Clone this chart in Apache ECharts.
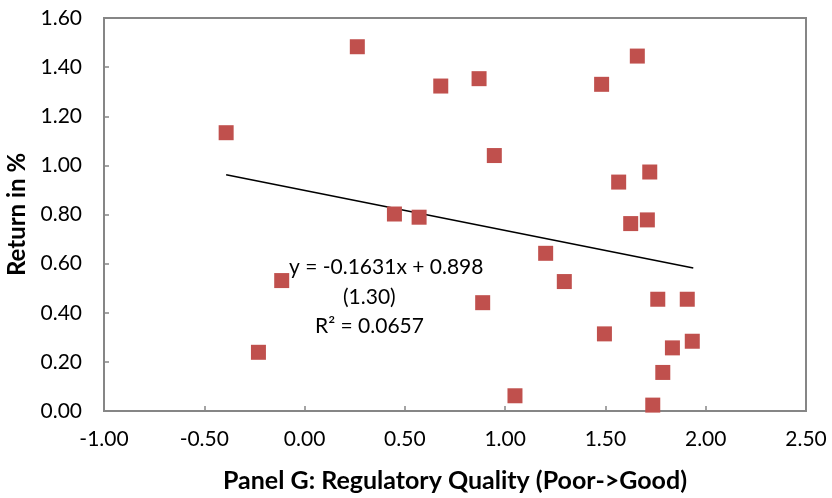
<!DOCTYPE html>
<html>
<head>
<meta charset="utf-8">
<script src="https://cdn.jsdelivr.net/npm/echarts@6/dist/echarts.min.js"></script>
<style>
  html, body { margin: 0; padding: 0; background: #fff; }
  #main { width: 832px; height: 498px; }
</style>
</head>
<body>
<div id="main"></div>
<script>
var myChart = echarts.init(document.getElementById('main'))

// regulatory quality score (x) and return in % (y)
var quality = [-0.391, -0.114, -0.230, 0.263, 0.679, 0.870, 0.946, 0.448, 0.571,
    1.202, 1.295, 0.888, 1.049, 1.659, 1.481, 1.721, 1.566, 1.709, 1.626,
    1.761, 1.908, 1.495, 1.933, 1.834, 1.786, 1.736]
var returns = [1.133, 0.531, 0.239, 1.483, 1.323, 1.353, 1.040, 0.802, 0.789,
    0.642, 0.527, 0.441, 0.062, 1.445, 1.330, 0.973, 0.932, 0.778, 0.763,
    0.455, 0.455, 0.314, 0.284, 0.257, 0.157, 0.024]

// linear trend line ends
var trendX = [-0.391, 1.938]
var trendY = [0.962, 0.582]

var eqLines = ['y = -0.1631x + 0.898', '(1.30)', 'R² = 0.0657']

var font = 'Lato, "Open Sans", sans-serif'

var points = quality.map(function (q, i) { return [q, returns[i]] })
var trend = trendX.map(function (x, i) { return [x, trendY[i]] })

var axisCommon = {
    type: 'value',
    axisLine: { show: true, onZero: false, lineStyle: { color: '#868686', width: 2 } },
    axisTick: { show: true, inside: true, length: 5, lineStyle: { color: '#868686', width: 1.5 } },
    splitLine: { show: false },
    axisLabel: {
        color: '#000',
        fontFamily: font,
        fontSize: 21,
        formatter: function (v) { return v.toFixed(2) }
    },
    nameTextStyle: { color: '#000', fontFamily: font, fontSize: 24, fontWeight: 'bold' }
}

var options = {
    animation: false,
    grid: {
        left: 104, right: 26, top: 18, bottom: 87,
        outerBoundsMode: 'none',
        containLabel: false,
        show: true,
        borderColor: '#868686',
        borderWidth: 2
    },
    xAxis: Object.assign({}, axisCommon, {
        min: -1, max: 2.5, interval: 0.5,
        name: 'Panel G: Regulatory Quality (Poor->Good)',
        nameLocation: 'middle',
        nameGap: 57,
        nameTextStyle: Object.assign({}, axisCommon.nameTextStyle, { fontSize: 25 }),
        axisLabel: Object.assign({}, axisCommon.axisLabel, { margin: 18 })
    }),
    yAxis: Object.assign({}, axisCommon, {
        min: 0, max: 1.6, interval: 0.2,
        name: 'Return in %',
        nameLocation: 'middle',
        nameGap: 75,
        axisLabel: Object.assign({}, axisCommon.axisLabel, { margin: 22 })
    }),
    graphic: [{
        type: 'text',
        left: 289, top: 257,
        style: { text: eqLines[0], font: '21px ' + font, fill: '#000' }
    }, {
        type: 'text',
        left: 343, top: 287,
        style: { text: eqLines[1], font: '21px ' + font, fill: '#000' }
    }, {
        type: 'text',
        left: 315, top: 316,
        style: { text: eqLines[2], font: '21px ' + font, fill: '#000' }
    }],
    series: [{
        type: 'line',
        data: trend,
        showSymbol: false,
        lineStyle: { color: '#000', width: 1.6 },
        z: 2
    }, {
        type: 'scatter',
        data: points,
        symbol: 'rect',
        symbolSize: 15,
        itemStyle: { color: '#C0504D', opacity: 1 },
        z: 3
    }]
}

myChart.setOption(options)
</script>
</body>
</html>
